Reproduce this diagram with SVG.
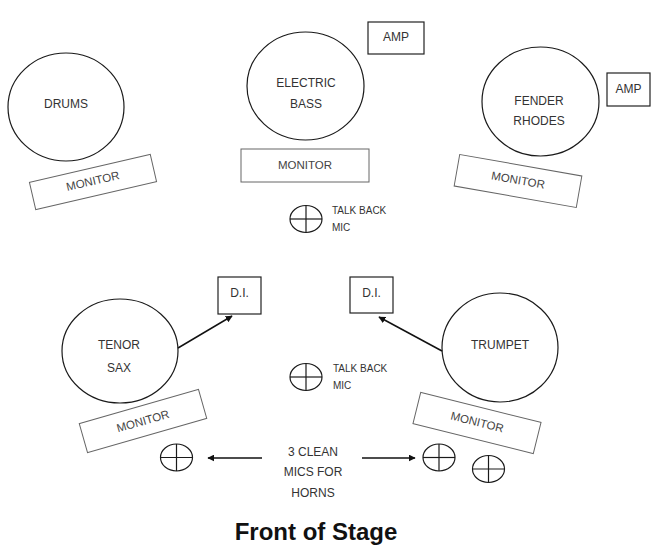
<svg xmlns="http://www.w3.org/2000/svg" width="655" height="552" viewBox="0 0 655 552">
<defs>
<style>
.c{fill:none;stroke:#1a1a1a;stroke-width:1.2}
.m{fill:none;stroke:#666;stroke-width:1}
.b{fill:none;stroke:#222;stroke-width:1.2}
.t{font-family:"Liberation Sans",Arial,sans-serif;font-size:12px;fill:#333;text-anchor:middle;dominant-baseline:central}
.s{font-family:"Liberation Sans",Arial,sans-serif;font-size:10px;fill:#333;dominant-baseline:central}
.mt{font-family:"Liberation Sans",Arial,sans-serif;font-size:11.5px;fill:#444;text-anchor:middle;dominant-baseline:central}
.a{stroke:#111;stroke-width:1.5;fill:none}
</style>
<marker id="ah" viewBox="0 0 10 10" refX="9" refY="5" markerWidth="7" markerHeight="7" markerUnits="userSpaceOnUse" orient="auto">
<path d="M0,0 L10,5 L0,10 z" fill="#111"/>
</marker>
<g id="mic"><ellipse cx="0" cy="0" rx="16" ry="13.5" class="c"/><line x1="-16" y1="0" x2="16" y2="0" class="c"/><line x1="0" y1="-13.5" x2="0" y2="13.5" class="c"/></g>
</defs>
<rect width="655" height="552" fill="#fff"/>

<g id="drums"><ellipse cx="66" cy="107" rx="58" ry="54" class="c"/><text x="66" y="104" class="t">DRUMS</text></g>
<g id="drums-monitor" transform="translate(93,182) rotate(-13)"><rect x="-62" y="-14" width="124" height="28" class="m"/><text x="0" y="-1" class="mt">MONITOR</text></g>

<g id="bass"><ellipse cx="305.5" cy="86" rx="58.5" ry="54" class="c"/><text x="306" y="83" class="t">ELECTRIC</text><text x="306" y="104" class="t">BASS</text></g>
<g id="bass-amp"><rect x="368" y="22" width="56" height="32" class="b"/><text x="396" y="37" class="t">AMP</text></g>
<g id="bass-monitor"><rect x="241" y="149" width="128" height="33" class="m"/><text x="305" y="165" class="mt">MONITOR</text></g>
<g id="talkback1"><use href="#mic" x="306" y="219"/><text x="332" y="210" class="s">TALK BACK</text><text x="332" y="227" class="s">MIC</text></g>

<g id="rhodes"><ellipse cx="540.5" cy="101.5" rx="58.5" ry="54.5" class="c"/><text x="539" y="101" class="t">FENDER</text><text x="539" y="121" class="t">RHODES</text></g>
<g id="rhodes-amp"><rect x="607" y="73" width="43" height="33" class="b"/><text x="628.5" y="89" class="t">AMP</text></g>
<g id="rhodes-monitor" transform="translate(518,181) rotate(10)"><rect x="-62" y="-16" width="124" height="32" class="m"/><text x="0" y="-1" class="mt">MONITOR</text></g>

<g id="tenor"><ellipse cx="120" cy="351" rx="58" ry="52" class="c"/><text x="119" y="345" class="t">TENOR</text><text x="119" y="368" class="t">SAX</text></g>
<g id="di-left"><rect x="218" y="277" width="43" height="37" class="b"/><text x="239.5" y="293" class="t">D.I.</text></g>
<g id="tenor-monitor" transform="translate(143,421) rotate(-16)"><rect x="-62" y="-15" width="124" height="30" class="m"/><text x="0" y="0" class="mt">MONITOR</text></g>

<g id="trumpet"><ellipse cx="500" cy="347.5" rx="58" ry="54.5" class="c"/><text x="500" y="345" class="t">TRUMPET</text></g>
<g id="di-right"><rect x="350" y="277" width="43" height="36" class="b"/><text x="371.5" y="293" class="t">D.I.</text></g>
<g id="trumpet-monitor" transform="translate(477,423) rotate(14)"><rect x="-62" y="-16" width="124" height="32" class="m"/><text x="0" y="-1" class="mt">MONITOR</text></g>

<g id="talkback2"><use href="#mic" x="306" y="377"/><text x="333" y="368" class="s">TALK BACK</text><text x="333" y="385" class="s">MIC</text></g>

<g id="mic-left"><use href="#mic" x="176.5" y="457.5"/></g>
<g id="mic-right1"><use href="#mic" x="439" y="457.5"/></g>
<g id="mic-right2"><use href="#mic" x="488.5" y="469"/></g>
<g id="clean-mics"><text x="313" y="452" class="t">3 CLEAN</text><text x="313" y="472" class="t">MICS FOR</text><text x="313" y="493" class="t">HORNS</text></g>

<g id="connectors">
<line x1="178" y1="348" x2="232" y2="316" class="a" marker-end="url(#ah)"/>
<line x1="442" y1="351" x2="379" y2="317" class="a" marker-end="url(#ah)"/>
<line x1="262" y1="458" x2="208" y2="458" class="a" marker-end="url(#ah)"/>
<line x1="362" y1="458" x2="415" y2="458" class="a" marker-end="url(#ah)"/>
</g>

<text id="title" x="316" y="540" font-family="Liberation Sans,Arial,sans-serif" font-size="24" font-weight="bold" fill="#111" text-anchor="middle">Front of Stage</text>
</svg>
